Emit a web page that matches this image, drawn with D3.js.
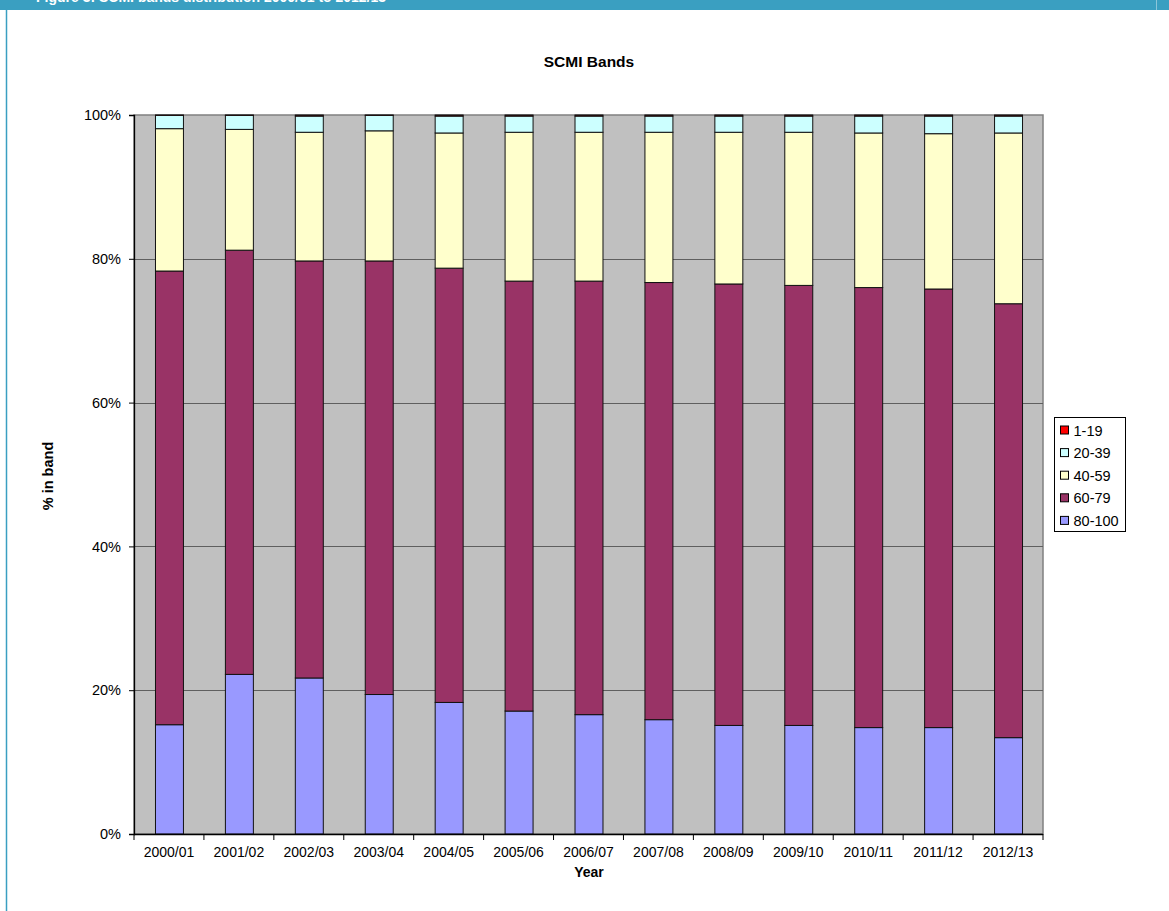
<!DOCTYPE html>
<html>
<head>
<meta charset="utf-8">
<script src="https://cdn.jsdelivr.net/npm/d3@7"></script>
<style>
  html, body { margin: 0; padding: 0; background: #fff; }
  svg { display: block; font-family: "Liberation Sans", Arial, sans-serif; }
</style>
</head>
<body>
<svg id="chart" width="1169" height="911"></svg>
<script>
// Years on the category axis
const years = ["2000/01", "2001/02", "2002/03", "2003/04", "2004/05", "2005/06", "2006/07",
               "2007/08", "2008/09", "2009/10", "2010/11", "2011/12", "2012/13"];

// Share of records in each SCMI band (%), one array per band
const band80to100 = [15.2, 22.2, 21.7, 19.4, 18.3, 17.1, 16.6, 15.9, 15.1, 15.1, 14.8, 14.8, 13.4];
const band60to79  = [63.1, 59.0, 58.0, 60.3, 60.4, 59.8, 60.3, 60.8, 61.4, 61.2, 61.2, 61.0, 60.35];
const band40to59  = [19.8, 16.8, 17.9, 18.1, 18.8, 20.7, 20.7, 20.9, 21.1, 21.3, 21.5, 21.6, 23.75];
const band20to39  = [1.85, 1.95, 2.25, 2.15, 2.35, 2.25, 2.25, 2.25, 2.25, 2.25, 2.35, 2.45, 2.35];
const band1to19   = [0.05, 0.05, 0.15, 0.05, 0.15, 0.15, 0.15, 0.15, 0.15, 0.15, 0.15, 0.15, 0.15];

// Stack order bottom to top; legend lists top band first
const bandNames = ["80-100", "60-79", "40-59", "20-39", "1-19"];
const bandColors = ["#9999FF", "#993366", "#FFFFCC", "#CCFFFF", "#FF0000"];
const bandValues = [band80to100, band60to79, band40to59, band20to39, band1to19];

const yTicks = [0, 20, 40, 60, 80, 100];

const rows = years.map((yr, i) => {
  const r = { year: yr };
  bandNames.forEach((b, k) => { r[b] = bandValues[k][i]; });
  return r;
});

const svg = d3.select("#chart");
const W = 1169, H = 911;

// Page header strip and left rule
svg.append("defs").append("clipPath").attr("id", "hdrClip")
  .append("rect").attr("x", 0).attr("y", 0).attr("width", W).attr("height", 10);
svg.append("rect").attr("x", 0).attr("y", 0).attr("width", W).attr("height", 10).attr("fill", "#3A9FC1");
svg.append("text").attr("clip-path", "url(#hdrClip)")
  .attr("x", 36).attr("y", 1.5)
  .attr("fill", "#fff").attr("font-weight", "bold").attr("font-size", 14)
  .text("Figure 3: SCMI bands distribution 2000/01 to 2012/13");
svg.append("line").attr("x1", 6.5).attr("x2", 6.5).attr("y1", 10).attr("y2", H)
  .attr("stroke", "#3A9FC1").attr("stroke-width", 1.5);
svg.append("line").attr("x1", 1156.5).attr("x2", 1156.5).attr("y1", 0).attr("y2", 10)
  .attr("stroke", "#8cc6da").attr("stroke-width", 1);

const plot = { left: 134, top: 115, right: 1043, bottom: 834 };

const x = d3.scaleBand().domain(years).range([plot.left, plot.right]).paddingInner(0.6).paddingOuter(0.3);
const xBand = d3.scaleBand().domain(years).range([plot.left, plot.right]);
const y = d3.scaleLinear().domain([0, 100]).range([plot.bottom, plot.top]);

// Plot background
svg.append("rect")
  .attr("x", plot.left).attr("y", plot.top)
  .attr("width", plot.right - plot.left).attr("height", plot.bottom - plot.top)
  .attr("fill", "#C0C0C0").attr("stroke", "#808080").attr("stroke-width", 1.5);

// Horizontal gridlines
svg.append("g").selectAll("line").data(yTicks.filter(t => t > 0 && t < 100)).join("line")
  .attr("x1", plot.left).attr("x2", plot.right)
  .attr("y1", d => Math.round(y(d)) + 0.5).attr("y2", d => Math.round(y(d)) + 0.5)
  .attr("stroke", "#5f5f5f").attr("stroke-width", 1.2);

// Stacked bars
const stack = d3.stack().keys(bandNames)(rows);
const gBars = svg.append("g");
stack.forEach((layer, k) => {
  gBars.append("g").attr("fill", bandColors[k])
    .selectAll("rect").data(layer).join("rect")
    .attr("x", d => x(d.data.year) + 0.5)
    .attr("y", d => y(d[1]))
    .attr("width", x.bandwidth())
    .attr("height", d => Math.max(0, y(d[0]) - y(d[1])))
    .attr("stroke", "#111").attr("stroke-width", 1);
});

// Y axis
const yAxis = d3.axisLeft(y).tickValues(yTicks).tickFormat(d => d + "%").tickSize(5).tickPadding(8);
const gy = svg.append("g").attr("transform", `translate(${plot.left},0)`).call(yAxis);
gy.select(".domain").attr("stroke", "#000").attr("stroke-width", 1.3);
gy.selectAll(".tick line").attr("stroke", "#000");
gy.selectAll(".tick text").attr("font-size", 14.5).attr("fill", "#000")
  .attr("font-family", "Liberation Sans, Arial, sans-serif");

// X axis: ticks at category boundaries
const gx = svg.append("g").attr("transform", `translate(0,${plot.bottom})`);
gx.append("line").attr("x1", plot.left).attr("x2", plot.right).attr("y1", 0.5).attr("y2", 0.5)
  .attr("stroke", "#000").attr("stroke-width", 1.3);
const boundaries = years.map(yr => xBand(yr)).concat([plot.right]);
gx.selectAll("line.tk").data(boundaries).join("line").attr("class", "tk")
  .attr("x1", d => d).attr("x2", d => d).attr("y1", 0).attr("y2", 6)
  .attr("stroke", "#000");
gx.selectAll("text").data(years).join("text")
  .attr("x", d => xBand(d) + xBand.bandwidth() / 2)
  .attr("y", 23)
  .attr("text-anchor", "middle").attr("font-size", 14).attr("fill", "#000")
  .text(d => d);

// Titles
svg.append("text").attr("x", 589).attr("y", 67).attr("text-anchor", "middle")
  .attr("font-size", 15.5).attr("font-weight", "bold").text("SCMI Bands");
svg.append("text").attr("x", 589).attr("y", 877).attr("text-anchor", "middle")
  .attr("font-size", 14).attr("font-weight", "bold").text("Year");
svg.append("text").attr("transform", "translate(53,476) rotate(-90)").attr("text-anchor", "middle")
  .attr("font-size", 14.5).attr("font-weight", "bold").text("% in band");

// Legend
const legend = svg.append("g").attr("transform", "translate(1054.5,417.5)");
legend.append("rect").attr("width", 71).attr("height", 114)
  .attr("fill", "#fff").attr("stroke", "#000").attr("stroke-width", 1);
const legendOrder = bandNames.map((n, k) => ({ name: n, color: bandColors[k] })).reverse();
const li = legend.selectAll("g.item").data(legendOrder).join("g").attr("class", "item")
  .attr("transform", (d, i) => `translate(6,${13 + i * 22.6})`);
li.append("rect").attr("x", 0).attr("y", -4.5).attr("width", 8).attr("height", 8)
  .attr("fill", d => d.color).attr("stroke", "#000").attr("stroke-width", 1);
li.append("text").attr("x", 13).attr("y", 5).attr("font-size", 14.5).text(d => d.name);
</script>
</body>
</html>
